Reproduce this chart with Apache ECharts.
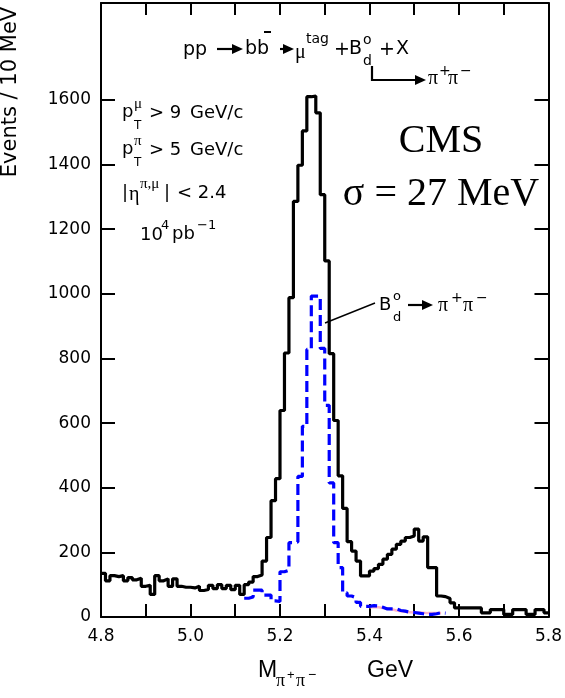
<!DOCTYPE html>
<html>
<head>
<meta charset="utf-8">
<script src="https://cdn.jsdelivr.net/npm/echarts@6.0.0/dist/echarts.min.js"></script>
<style>
  html, body { margin: 0; padding: 0; background: #fff; }
  #main { width: 565px; height: 698px; }
</style>
</head>
<body>
<div id="main"></div>
<script>
// bins of 10 MeV, values are events per bin (left edge given by start + i*binW)
const binW = 0.01;
const blackStart = 4.80;
const blackVals = [
  135, 112, 128, 125, 128, 112, 122, 115, 120, 95,
  98, 70, 128, 112, 118, 95, 118, 95, 92, 92,
  90, 95, 82, 85, 98, 88, 100, 88, 98, 85,
  98, 70, 100, 108, 125, 130, 173, 246, 360, 428,
  639, 817, 988, 1286, 1398, 1504, 1610, 1612, 1560, 1307,
  1102, 815, 608, 437, 336, 233, 204, 173, 127, 127,
  142, 150, 163, 179, 194, 210, 225, 235, 246, 251,
  272, 235, 248, 153, 153, 65, 63, 57, 44, 28,
  28, 28, 28, 28, 28, 13, 13, 23, 23, 23,
  8, 8, 23, 23, 23, 8, 8, 23, 23, 13
];
// signal only (B_d -> pi+ pi-)
const blueStart = 5.12;
const blueVals = [
  58, 62, 83, 83, 68, 68, 50, 48,
  140, 145, 230, 232, 435, 590, 828, 993, 993, 831,
  655, 415, 230, 153, 75, 65, 60, 45, 33, 33,
  35, 34, 30, 25, 25, 25, 20, 18, 15, 14,
  12, 10, 8, 8, 10, 13, 12
];
// faint pink background component
const pinkStart = 5.40;
const pinkVals = [30, 30, 28, 26, 24, 20, 18, 16, 15, 14, 14, 13, 12, 12, 12, 12];

const xLabels = [4.8, 5.0, 5.2, 5.4, 5.6, 5.8];
const xTicks = [4.9, 5.0, 5.1, 5.2, 5.3, 5.4, 5.5, 5.6, 5.7];
const yLabels = [0, 200, 400, 600, 800, 1000, 1200, 1400, 1600];

function steps(start, vals) {
  const pts = vals.map((v, i) => [+(start + i * binW).toFixed(2), v]);
  pts.push([+(start + vals.length * binW).toFixed(2), vals[vals.length - 1]]);
  return pts;
}

const SANS = 'DejaVu Sans';
const SERIF = 'Liberation Serif';

function T(x, y, s, size, fam, align, extra) {
  const st = {
    text: s, font: size + 'px "' + (fam || SANS) + '"', fill: '#000',
    align: align || 'left', verticalAlign: 'middle',
    textAlign: align || 'left', textVerticalAlign: 'middle'
  };
  return Object.assign({ type: 'text', x: x, y: y, style: st, z: 100 }, extra || {});
}
function arrow(x1, y, x2) {
  return [
    { type: 'line', shape: { x1: x1, y1: y, x2: x2 - 7, y2: y }, style: { stroke: '#000', lineWidth: 2.2 }, z: 100 },
    { type: 'polygon', shape: { points: [[x2, y], [x2 - 11, y - 5], [x2 - 11, y + 5]] }, style: { fill: '#000' }, z: 100 }
  ];
}

const texts = [
  // y axis title
  T(11, 92, 'Events / 10 MeV', 21, SANS, 'center', { rotation: Math.PI / 2 }),
  // process line
  T(183, 50, 'pp', 19),
  ...arrow(217, 49, 243),
  T(245, 49, 'bb', 19),
  { type: 'line', shape: { x1: 264, y1: 32, x2: 271, y2: 32 }, style: { stroke: '#000', lineWidth: 2 }, z: 100 },
  ...arrow(280, 49, 294),
  T(295, 53, 'μ', 20, SERIF),
  T(306, 39, 'tag', 14),
  T(334, 50, '+', 19),
  T(349, 49, 'B', 19),
  T(363, 40, 'o', 14),
  T(363, 61, 'd', 14),
  T(379, 50, '+', 19),
  T(396, 49, 'X', 19),
  { type: 'polyline', shape: { points: [[372, 66], [372, 80], [417, 80]] }, style: { stroke: '#000', lineWidth: 2.2, fill: null }, z: 100 },
  { type: 'polygon', shape: { points: [[426, 80], [415, 75], [415, 85]] }, style: { fill: '#000' }, z: 100 },
  T(428, 79, 'π', 20, SERIF),
  T(439, 71, '+', 14),
  T(448, 79, 'π', 20, SERIF),
  T(460, 71, '−', 14),
  // cuts
  T(122, 112, 'p', 18),
  T(134, 104, 'μ', 15, SERIF),
  T(134, 126, 'T', 12),
  T(149, 113, '> 9', 18),
  T(190, 113, 'GeV/c', 18),
  T(122, 149, 'p', 18),
  T(134, 141, 'π', 15, SERIF),
  T(134, 163, 'T', 12),
  T(149, 150, '> 5', 18),
  T(190, 150, 'GeV/c', 18),
  T(122, 193, '|', 18),
  T(129, 195, 'η', 20, SERIF),
  T(140, 184, 'π,μ', 15, SERIF),
  T(164, 193, '|', 18),
  T(177, 193, '< 2.4', 18),
  T(140, 235, '10', 18),
  T(161, 226, '4', 13),
  T(172, 234, 'pb', 18),
  T(197, 226, '−1', 13),
  // CMS
  T(441, 141, 'CMS', 40, SERIF, 'center'),
  T(441, 194, 'σ = 27 MeV', 40, SERIF, 'center'),
  // signal label
  { type: 'line', shape: { x1: 325, y1: 323, x2: 375, y2: 303 }, style: { stroke: '#000', lineWidth: 1.5 }, z: 100 },
  T(379, 305, 'B', 18),
  T(393, 297, 'o', 13),
  T(393, 318, 'd', 13),
  ...arrow(408, 305, 433),
  T(438, 306, 'π', 20, SERIF),
  T(451, 298, '+', 14),
  T(463, 306, 'π', 20, SERIF),
  T(476, 298, '−', 14),
  // x axis title
  T(258, 671, 'M', 23, 'Liberation Sans'),
  T(276, 681, 'π', 18, SERIF),
  T(287, 675, '+', 13, 'Liberation Sans'),
  T(296, 681, 'π', 18, SERIF),
  T(308, 675, '−', 14, 'Liberation Sans'),
  T(367, 671, 'GeV', 23, 'Liberation Sans')
];

const axisLine = { show: true, onZero: false, lineStyle: { color: '#000', width: 2 } };

const option = {
  animation: false,
  backgroundColor: '#fff',
  grid: { left: 101, right: 12, top: 3, bottom: 81 },
  xAxis: [
    {
      type: 'value', min: 4.8, max: 5.8, interval: 0.1, position: 'bottom',
      axisLine: axisLine,
      axisTick: { inside: true, length: 13, lineStyle: { color: '#000', width: 2 }, customValues: xTicks },
      axisLabel: { customValues: xLabels, formatter: v => v.toFixed(1), color: '#000', fontSize: 17, fontFamily: SANS, margin: 11 },
      splitLine: { show: false }
    },
    {
      type: 'value', min: 4.8, max: 5.8, interval: 0.1, position: 'top',
      axisLine: axisLine,
      axisTick: { inside: true, length: 12, lineStyle: { color: '#000', width: 2 }, customValues: xTicks },
      axisLabel: { show: false },
      splitLine: { show: false }
    }
  ],
  yAxis: [
    {
      type: 'value', min: 0, max: 1900, interval: 200, position: 'left',
      axisLine: axisLine,
      axisTick: { inside: true, length: 14, lineStyle: { color: '#000', width: 2 }, customValues: yLabels },
      axisLabel: { customValues: yLabels, formatter: v => String(v), color: '#000', fontSize: 17, fontFamily: SANS, margin: 10 },
      splitLine: { show: false }
    },
    {
      type: 'value', min: 0, max: 1900, interval: 200, position: 'right',
      axisLine: axisLine,
      axisTick: { inside: true, length: 14, lineStyle: { color: '#000', width: 2 }, customValues: yLabels },
      axisLabel: { show: false },
      splitLine: { show: false }
    }
  ],
  series: [
    {
      name: 'background', type: 'line', step: 'end', symbol: 'none', z: 1,
      data: steps(pinkStart, pinkVals),
      lineStyle: { color: '#ffb3c6', width: 2.5 }
    },
    {
      name: 'all', type: 'line', step: 'end', symbol: 'none', z: 3,
      data: steps(blackStart, blackVals),
      lineStyle: { color: '#000', width: 3.2 }
    },
    {
      name: 'signal', type: 'line', step: 'end', symbol: 'none', z: 4,
      data: steps(blueStart, blueVals),
      lineStyle: { color: '#0000ff', width: 3.2, type: [11, 5] }
    }
  ],
  graphic: { elements: texts }
};

const chart = echarts.init(document.getElementById('main'));
chart.setOption(option);
</script>
</body>
</html>
